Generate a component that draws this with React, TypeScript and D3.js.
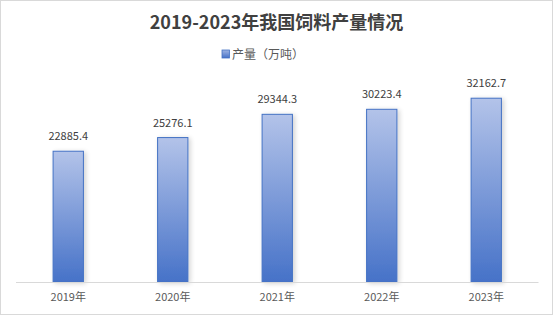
import React from "react";
import * as d3 from "d3";

const categories = ["2019年", "2020年", "2021年", "2022年", "2023年"];
const values = [22885.4, 25276.1, 29344.3, 30223.4, 32162.7];
const seriesName = "产量（万吨）";
const title = "2019-2023年我国饲料产量情况";

const W = 553;
const H = 315;
const FONT = "'Microsoft YaHei', 'Noto Sans CJK SC', 'DejaVu Sans', sans-serif";

export default function App() {
  const x = d3.scaleBand<string>().domain(categories).range([16, 538.5]).paddingInner(0.71).paddingOuter(0.355);
  const y = d3.scaleLinear().domain([0, 35000]).range([282, 82]);
  return (
    <div style={{ position: "absolute", left: 0, top: 0 }}>
      <svg width={W} height={H} style={{ display: "block" }}>
        <defs>
          <linearGradient id="barGrad" x1="0" y1="0" x2="0" y2="1">
            <stop offset="0%" stopColor="#b3c3e9" />
            <stop offset="100%" stopColor="#4672c8" />
          </linearGradient>
          <filter id="shadow" x="-50%" y="-20%" width="200%" height="140%">
            <feGaussianBlur in="SourceAlpha" stdDeviation="2.5" />
            <feOffset dx="2" dy="1" result="b" />
            <feComponentTransfer>
              <feFuncA type="linear" slope="0.18" />
            </feComponentTransfer>
            <feMerge>
              <feMergeNode />
              <feMergeNode in="SourceGraphic" />
            </feMerge>
          </filter>
          <linearGradient id="legGrad" x1="0" y1="0" x2="0" y2="1">
            <stop offset="0%" stopColor="#9fb3e2" />
            <stop offset="100%" stopColor="#4672c8" />
          </linearGradient>
        </defs>
        <rect x={0.5} y={0.5} width={W - 1} height={H - 1} fill="#fff" stroke="#d9d9d9" />
        <text x={W / 2} y={29} textAnchor="middle" fontFamily={FONT} fontWeight="bold" fontSize={18} fill="#404040">
          {title}
        </text>
        <rect x={222} y={50} width={7.5} height={8} fill="url(#legGrad)" stroke="#4472c4" strokeWidth={0.8} />
        <text x={232} y={58.5} fontFamily={FONT} fontSize={12} fill="#595959">
          {seriesName}
        </text>
        {categories.map((c, i) => {
          const bx = x(c)!;
          const bw = x.bandwidth();
          const top = y(values[i]);
          return (
            <g key={c}>
              <rect
                x={bx}
                y={top}
                width={bw}
                height={y(0) - top}
                fill="url(#barGrad)"
                stroke="#4472c4"
                strokeWidth={1}
                filter="url(#shadow)"
              />
              <text x={bx + bw / 2} y={top - 11} textAnchor="middle" fontFamily={FONT} fontSize={11} fill="#404040">
                {values[i].toFixed(1)}
              </text>
              <text x={bx + bw / 2} y={301} textAnchor="middle" fontFamily={FONT} fontSize={11} fill="#595959">
                {c}
              </text>
            </g>
          );
        })}
        <line x1={16} x2={538.5} y1={282.5} y2={282.5} stroke="#d9d9d9" strokeWidth={1} />
      </svg>
    </div>
  );
}
